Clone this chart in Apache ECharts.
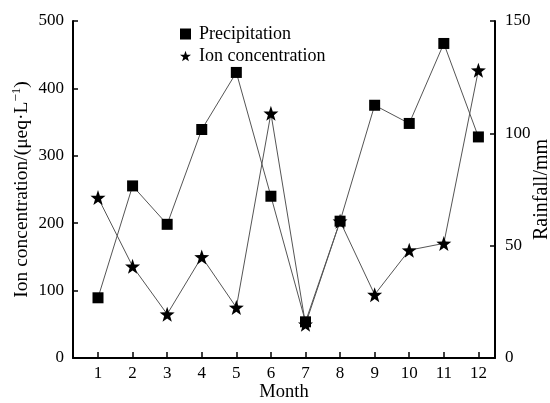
<!DOCTYPE html>
<html>
<head>
<meta charset="utf-8">
<script src="https://cdn.jsdelivr.net/npm/echarts@6/dist/echarts.min.js"></script>
<style>html,body{margin:0;padding:0;background:#fff}#c{width:550px;height:403px}</style>
</head>
<body>
<div id="c"></div>
<script>
var months = [1, 2, 3, 4, 5, 6, 7, 8, 9, 10, 11, 12];
var precipitation = [26.8, 76.6, 59.5, 101.7, 127.1, 72.0, 16.1, 60.9, 112.5, 104.4, 140, 98.4];
var ionConcentration = [238, 136, 65, 150, 75, 363, 50, 203, 94, 160, 170, 427];
var leftTicks = [0, 100, 200, 300, 400, 500];
var rightTicks = [0, 50, 100, 150];

var STAR = 'path://M0,-10L2.35,-3.24L9.51,-3.09L3.8,1.24L5.88,8.09L0,4.2L-5.88,8.09L-3.8,1.24L-9.51,-3.09L-2.35,-3.24Z';
var FONT = '"Liberation Serif","Times New Roman",serif';

var chart = echarts.init(document.getElementById('c'), null, {renderer: 'canvas'});
chart.setOption({
  animation: false,
  backgroundColor: '#fff',
  textStyle: {fontFamily: FONT, color: '#000'},
  grid: {left: 73, right: 55, top: 21, bottom: 45, containLabel: false, outerBoundsMode: 'none'},
  legend: {
    orient: 'vertical',
    left: 175,
    top: 20,
    itemWidth: 11,
    itemHeight: 11,
    itemGap: 4,
    textStyle: {fontFamily: FONT, fontSize: 18, color: '#000', lineHeight: 18, padding: [0, 0, 0, 3]},
    data: [
      {name: 'Precipitation', icon: 'rect'},
      {name: 'Ion concentration', icon: STAR}
    ]
  },
  xAxis: {
    type: 'value',
    min: 0.277,
    max: 12.48,
    name: 'Month',
    nameLocation: 'middle',
    nameGap: 25,
    nameMoveOverlap: false,
    nameTextStyle: {fontFamily: FONT, fontSize: 18.5, color: '#000'},
    axisLine: {show: true, onZero: false, lineStyle: {color: '#000', width: 2}},
    axisTick: {show: true, inside: true, length: 6, customValues: months, lineStyle: {color: '#000', width: 1.5}},
    axisLabel: {customValues: months, fontFamily: FONT, fontSize: 17, color: '#000', margin: 7, formatter: function (v) { return String(Math.round(v)); }},
    splitLine: {show: false}
  },
  yAxis: [
    {
      type: 'value',
      min: 0, max: 500, interval: 100,
      name: '{n|Ion concentration/(μeq·L}{s|−1}{n|)}',
      nameLocation: 'middle',
      nameRotate: 90,
      nameGap: 40,
      nameMoveOverlap: false,
      nameTextStyle: {
        fontFamily: FONT, fontSize: 19.5, color: '#000',
        rich: {
          n: {fontFamily: FONT, fontSize: 19.5, color: '#000'},
          s: {fontFamily: FONT, fontSize: 13, color: '#000', padding: [0, 0, 10, 0]}
        }
      },
      axisLine: {show: true, lineStyle: {color: '#000', width: 2}},
      axisTick: {show: true, inside: true, length: 5, lineStyle: {color: '#000', width: 1.5}},
      axisLabel: {fontFamily: FONT, fontSize: 17, color: '#000', margin: 9},
      splitLine: {show: false}
    },
    {
      type: 'value',
      min: 0, max: 150, interval: 50,
      name: 'Rainfall/mm',
      nameLocation: 'middle',
      nameRotate: 90,
      nameGap: 37,
      nameMoveOverlap: false,
      nameTextStyle: {fontFamily: FONT, fontSize: 20, color: '#000'},
      axisLine: {show: true, lineStyle: {color: '#000', width: 2}},
      axisTick: {show: true, inside: true, length: 5, lineStyle: {color: '#000', width: 1.5}},
      axisLabel: {fontFamily: FONT, fontSize: 17, color: '#000', margin: 10},
      splitLine: {show: false}
    }
  ],
  series: [
    {
      name: 'Precipitation',
      type: 'line',
      yAxisIndex: 1,
      data: months.map(function (m, i) { return [m, precipitation[i]]; }),
      symbol: 'rect',
      symbolSize: 11,
      showAllSymbol: true,
      lineStyle: {color: '#555', width: 1},
      itemStyle: {color: '#000'}
    },
    {
      name: 'Ion concentration',
      type: 'line',
      yAxisIndex: 0,
      data: months.map(function (m, i) { return [m, ionConcentration[i]]; }),
      symbol: STAR,
      symbolSize: 15,
      showAllSymbol: true,
      lineStyle: {color: '#555', width: 1},
      itemStyle: {color: '#000'}
    }
  ]
});
</script>
</body>
</html>
